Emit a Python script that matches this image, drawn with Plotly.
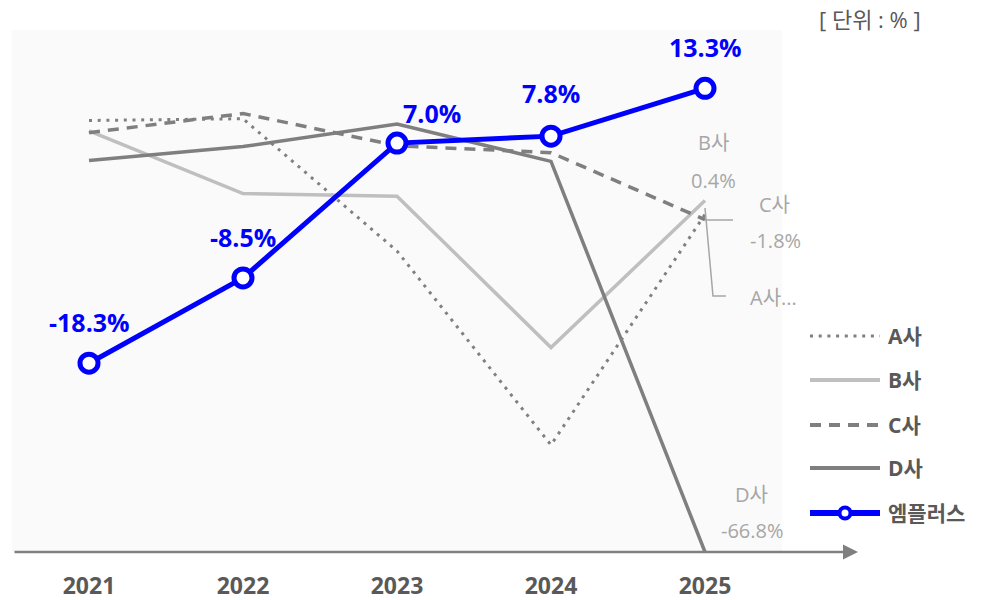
import plotly.graph_objects as go
import numpy as np

# ---------------- data ----------------
years = ["2021", "2022", "2023", "2024", "2025"]
a_values = [9.6, 9.8, -5.4, -27.7, -1.2]
b_values = [8.4, 1.2, 0.9, -16.5, 0.4]
c_values = [8.2, 10.4, 6.7, 5.9, -1.8]
d_values = [5.0, 6.6, 9.2, 4.9, -66.8]
m_values = [-18.3, -8.5, 7.0, 7.8, 13.3]
series_names = ["A사", "B사", "C사", "D사", "엠플러스"]
unit_text = "[ 단위 : % ]"

Y_MIN, Y_MAX = -40, 20

# ---------------- layout geometry helpers ----------------
W, H = 992, 600
L, R, T, B = 12, 210, 30, 48
PW, PH = W - L - R, H - T - B


def px(x):
    return (x - L) / PW


def py(y):
    return (H - B - y) / PH


FONT = "Open Sans, Noto Sans CJK KR, sans-serif"
GRAY_TXT = "#595959"
LABEL_GRAY = "#a6a6a6"
BLUE = "#0000ff"

styles = [
    dict(color="#808080", width=3, dash="3px,5.7px"),
    dict(color="#bfbfbf", width=3.5, dash="solid"),
    dict(color="#7f7f7f", width=3.5, dash="11px,8px"),
    dict(color="#7f7f7f", width=3.5, dash="solid"),
    dict(color=BLUE, width=5, dash="solid"),
]

all_values = [a_values, b_values, c_values, d_values, m_values]

fig = go.Figure()
for name, vals, st in zip(series_names, all_values, styles):
    plotted = np.clip(np.array(vals, dtype=float), Y_MIN, None)
    is_main = name == "엠플러스"
    fig.add_trace(go.Scatter(
        x=years, y=plotted, name=name,
        mode="lines+markers" if is_main else "lines",
        line=st,
        marker=dict(size=18, color="white", line=dict(color=BLUE, width=5)) if is_main else None,
        showlegend=False, cliponaxis=True,
    ))

annotations = []
shapes = []

# main series data labels (category index positions on the x axis)
label_shift = [(0, 41), (0, 41), (35, 30), (0, 43), (0, 41)]
for i, (v, (dx, dy)) in enumerate(zip(m_values, label_shift)):
    annotations.append(dict(
        x=i, y=v, xref="x", yref="y", text=f"{v:.1f}%", showarrow=False,
        xshift=dx, yshift=dy, yanchor="middle", xanchor="center",
        font=dict(family=FONT, size=25, color=BLUE, weight="bold"),
    ))

# end labels for competitor series
lab_font = dict(family=FONT, size=20, color=LABEL_GRAY)
end_labels = [
    ("B사", 713, 142), (f"{b_values[-1]:.1f}%", 713, 180),
    ("C사", 774, 204), (f"{c_values[-1]:.1f}%", 775, 241),
    ("A사...", 773, 297),
    ("D사", 751, 494), (f"{d_values[-1]:.1f}%", 752, 530),
]
for txt, x, y in end_labels:
    annotations.append(dict(x=px(x), y=py(y), xref="paper", yref="paper", text=txt,
                            showarrow=False, font=lab_font, xanchor="center", yanchor="middle"))

# leader lines
lead = dict(color=LABEL_GRAY, width=1.5)
shapes.append(dict(type="line", xref="paper", yref="paper", x0=px(705), y0=py(220), x1=px(733), y1=py(220), line=lead))
shapes.append(dict(type="path", xref="paper", yref="paper",
                   path=f"M{px(705)},{py(208)} L{px(713)},{py(296)} L{px(726)},{py(296)}", line=lead))

# unit text
annotations.append(dict(x=px(870), y=py(19), xref="paper", yref="paper", text=unit_text,
                        showarrow=False, font=dict(family=FONT, size=22, color=GRAY_TXT),
                        xanchor="center", yanchor="middle"))

# x axis line with arrow
annotations.append(dict(x=px(858), y=0, xref="paper", yref="paper", ax=-845, ay=0,
                        axref="pixel", ayref="pixel", text="", showarrow=True,
                        arrowhead=2, arrowsize=1.2, arrowwidth=2.5, arrowcolor="#808080", standoff=0))

# custom legend
leg_rows = [336, 380, 425, 468, 513]
for name, st, yrow in zip(series_names, styles, leg_rows):
    w = 4 if st["width"] > 3 else 3
    if name == "엠플러스":
        w = 6
    shapes.append(dict(type="line", xref="paper", yref="paper", x0=px(810), x1=px(880),
                       y0=py(yrow), y1=py(yrow),
                       line=dict(color=st["color"], width=w, dash=st["dash"])))
    if name == "엠플러스":
        shapes.append(dict(type="circle", xref="paper", yref="paper",
                           xsizemode="pixel", ysizemode="pixel",
                           xanchor=px(845), yanchor=py(yrow), x0=-5.5, x1=5.5, y0=-5.5, y1=5.5,
                           fillcolor="white", line=dict(color=BLUE, width=4)))
    annotations.append(dict(x=px(886), y=py(yrow), xref="paper", yref="paper", text=name,
                            showarrow=False, xanchor="left", yanchor="middle",
                            font=dict(family=FONT, size=21, color=GRAY_TXT, weight="bold")))

fig.update_layout(
    width=W, height=H,
    margin=dict(l=L, r=R, t=T, b=B, autoexpand=False),
    paper_bgcolor="white", plot_bgcolor="#fafafa",
    xaxis=dict(type="category", categoryorder="array", categoryarray=years,
               range=[-0.5, 4.5], showgrid=False, zeroline=False, showline=False,
               ticks="", ticklabelstandoff=18, automargin=False,
               tickfont=dict(family=FONT, size=23, color=GRAY_TXT, weight="bold")),
    yaxis=dict(range=[Y_MIN, Y_MAX], visible=False, showgrid=False, zeroline=False,
               automargin=False),
    annotations=annotations, shapes=shapes,
    showlegend=False,
)

fig.write_html("out.html", config={"displayModeBar": False},
               post_script="document.body.style.margin='0';")
